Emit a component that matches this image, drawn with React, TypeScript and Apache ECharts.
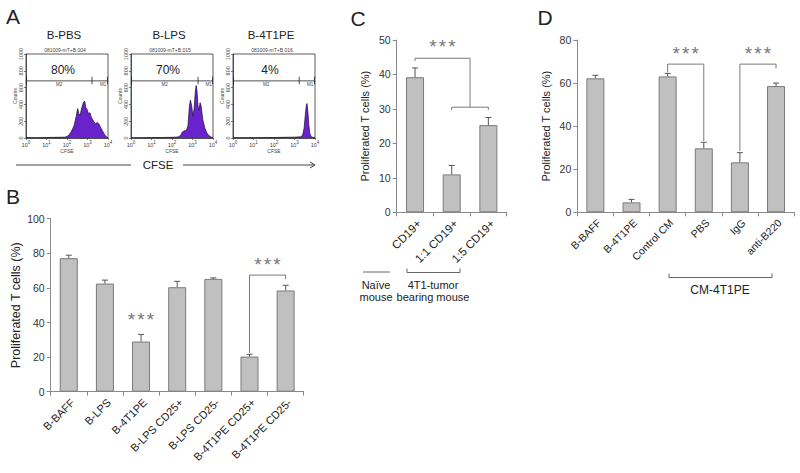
import React, { useEffect, useRef } from "react";
import * as echarts from "echarts";

// ---------- DATA ----------
const histTitles = ["B-PBS", "B-LPS", "B-4T1PE"];
const histFiles = ["081009-mT+B.004", "081009-mT+B.015", "081009-mT+B.016"];
const histPercents = ["80%", "70%", "4%"];
// [log10(CFSE), counts]
const histPBS = [
  [0, 5], [0.5, 4], [1, 6], [1.5, 8], [1.9, 10], [2.05, 25], [2.2, 70], [2.35, 150], [2.45, 260],
  [2.52, 350], [2.58, 290], [2.64, 270], [2.72, 360], [2.8, 420], [2.86, 440], [2.92, 360],
  [2.98, 340], [3.05, 290], [3.12, 300], [3.18, 250], [3.25, 220], [3.32, 190], [3.4, 170],
  [3.47, 185], [3.55, 170], [3.63, 130], [3.72, 90], [3.82, 45], [3.92, 15], [4, 2],
];
const histLPS = [
  [0, 3], [0.5, 4], [1, 5], [1.5, 6], [2, 8], [2.3, 12], [2.42, 30], [2.5, 70], [2.6, 85],
  [2.7, 90], [2.78, 150], [2.85, 380], [2.9, 450], [2.96, 380], [3.02, 260], [3.08, 350],
  [3.14, 560], [3.18, 625], [3.22, 560], [3.27, 380], [3.32, 330], [3.37, 420], [3.42, 380],
  [3.5, 220], [3.6, 120], [3.7, 60], [3.8, 30], [3.9, 12], [4, 3],
];
const hist4T1PE = [
  [0, 3], [0.5, 3], [1, 4], [1.5, 5], [2, 6], [2.5, 8], [3, 10], [3.3, 14], [3.4, 35],
  [3.47, 120], [3.53, 280], [3.58, 390], [3.61, 410], [3.65, 320], [3.7, 150], [3.75, 50],
  [3.82, 15], [3.9, 6], [4, 2],
];
const histData = [histPBS, histLPS, hist4T1PE];
const gateLevel = 680;
const gateBoundaries = [3.22, 3.27, 3.23];
const histXTicks = [0, 1, 2, 3, 4];

const bCategories = ["B-BAFF", "B-LPS", "B-4T1PE", "B-LPS CD25+", "B-LPS CD25-", "B-4T1PE CD25+", "B-4T1PE CD25-"];
const bValues = [77.2, 62.5, 29.0, 60.4, 65.2, 20.3, 58.5];
const bErrors = [1.7, 2.0, 4.1, 3.4, 0.6, 1.3, 3.0];
const bBrackets = [[[5, 22.5], [5, 67.4], [6, 67.4], [6, 65]]];
const bStars = [[2, 43.4], [5.5, 75]];

const cCategories = ["CD19+", "1:1 CD19+", "1:5 CD19+"];
const cValues = [39.2, 11.0, 25.3];
const cErrors = [2.7, 2.6, 2.2];
const cBrackets = [
  [[0, 43.9], [0, 44.7], [1.5, 44.7], [1.5, 30.5]],
  [[1, 29.7], [1, 30.5], [2, 30.5], [2, 29.7]],
];
const cStars = [[0.75, 49.1]];

const dCategories = ["B-BAFF", "B-4T1PE", "Control CM", "PBS", "IgG", "anti-B220"];
const dValues = [62.2, 4.6, 63.1, 29.7, 23.2, 58.6];
const dErrors = [1.4, 1.4, 1.4, 2.8, 4.5, 1.4];
const dBrackets = [
  [[2, 65], [2, 68.8], [3, 68.8], [3, 33.1]],
  [[4, 28.5], [4, 68.8], [5, 68.8], [5, 66.8]],
];
const dStars = [[2.5, 75.3], [4.5, 75.3]];

const yTitle = "Proliferated T cells (%)";

// ---------- STYLE / LAYOUT ----------
const FONT = "Liberation Sans, Arial, sans-serif";
const BAR_FILL = "#c0c0c0";
const BAR_BORDER = "#7a7a7a";
const AXIS = "#8a8a8a";
const TEXT = "#222";
const PURPLE = "#6a22cc";
const HIST_LEFTS = [26, 131, 233];
const HIST_TOP = 54;
const HIST_W = 82;
const HIST_H = 84;

function histAxes(i: number) {
  return {
    x: {
      type: "value", gridIndex: i, min: 0, max: 4, interval: 1,
      axisLine: { show: true, lineStyle: { color: "#333", width: 0.8 } },
      axisTick: { show: true, length: 2, lineStyle: { color: "#333", width: 0.6 } },
      splitLine: { show: false },
      axisLabel: {
        margin: 2,
        formatter: (v: number) => (histXTicks.includes(v) ? `{a|10}{b|${v}}` : ""),
        rich: {
          a: { fontSize: 5.5, color: "#444", fontFamily: FONT },
          b: { fontSize: 4.5, color: "#444", fontFamily: FONT, padding: [0, 0, 4, 0] },
        },
      },
      name: "CFSE", nameLocation: "middle", nameGap: 10,
      nameTextStyle: { fontSize: 5, color: "#444", fontFamily: FONT },
    },
    y: {
      type: "value", gridIndex: i, min: 0, max: 1000, interval: 200,
      axisLine: { show: true, lineStyle: { color: "#333", width: 0.8 } },
      axisTick: { show: true, length: 2, lineStyle: { color: "#333", width: 0.6 } },
      splitLine: { show: false },
      axisLabel: { rotate: 90, fontSize: 5.5, color: "#444", margin: 2, fontFamily: FONT, formatter: (v: number) => String(v) },
      name: "Counts", nameLocation: "middle", nameGap: 9,
      nameTextStyle: { fontSize: 5, color: "#444", fontFamily: FONT },
    },
  };
}

function barAxes(i: number, cats: string[], max: number, interval: number, labelSize: number, nameSize: number, nameGap: number) {
  return {
    x: {
      type: "category", gridIndex: i, data: cats,
      axisLine: { show: true, lineStyle: { color: AXIS, width: 1 } },
      axisTick: { show: true, alignWithLabel: false, length: 4, lineStyle: { color: AXIS } },
      axisLabel: {
        rotate: 45, fontSize: labelSize, color: TEXT, margin: 5, fontFamily: FONT, interval: 0,
        align: "right", verticalAlign: "top",
      },
      splitLine: { show: false },
    },
    y: {
      type: "value", gridIndex: i, min: 0, max, interval,
      axisLine: { show: true, lineStyle: { color: AXIS, width: 1 } },
      axisTick: { show: true, length: 4, lineStyle: { color: AXIS } },
      axisLabel: { fontSize: 10.5, color: "#333", margin: 6, fontFamily: FONT },
      splitLine: { show: false },
      name: yTitle, nameLocation: "middle", nameGap,
      nameTextStyle: { fontSize: nameSize, color: TEXT, fontFamily: FONT },
    },
  };
}

function barSeries(i: number, values: number[]) {
  return {
    type: "bar", xAxisIndex: i, yAxisIndex: i, data: values, barWidth: 18,
    itemStyle: { color: BAR_FILL, borderColor: BAR_BORDER, borderWidth: 1 },
    z: 2,
  };
}

function errorSeries(i: number, values: number[], errors: number[]) {
  return {
    type: "custom", xAxisIndex: i, yAxisIndex: i, z: 5, silent: true,
    data: values.map((v, k) => [k, v, v + errors[k]]),
    encode: { x: 0, y: [1, 2] },
    renderItem: (_p: any, api: any) => {
      const lo = api.coord([api.value(0), api.value(1)]);
      const hi = api.coord([api.value(0), api.value(2)]);
      return {
        type: "group",
        children: [
          { type: "line", shape: { x1: lo[0], y1: lo[1], x2: hi[0], y2: hi[1] }, style: { stroke: "#555", lineWidth: 1 } },
          { type: "line", shape: { x1: hi[0] - 3, y1: hi[1], x2: hi[0] + 3, y2: hi[1] }, style: { stroke: "#555", lineWidth: 1 } },
        ],
      };
    },
  };
}

function bracketSeries(i: number, lines: number[][][], stars: number[][]) {
  return {
    type: "custom", xAxisIndex: i, yAxisIndex: i, z: 6, silent: true, clip: false,
    data: [[0, 0]],
    renderItem: (_p: any, api: any) => {
      const at = (x: number, y: number) => {
        const i0 = Math.floor(x);
        const t = x - i0;
        const p0 = api.coord([i0, y]);
        if (t === 0) return p0;
        const p1 = api.coord([i0 + 1, y]);
        return [p0[0] + t * (p1[0] - p0[0]), p0[1]];
      };
      const children: any[] = [];
      lines.forEach((pts) =>
        children.push({
          type: "polyline",
          shape: { points: pts.map((p) => at(p[0], p[1])) },
          style: { stroke: "#7a7a7a", fill: "none", lineWidth: 1 },
        })
      );
      stars.forEach((s) => {
        const p = at(s[0], s[1]);
        for (let k = -1; k <= 1; k++) {
          children.push({
            type: "text", x: p[0] + k * 9.5, y: p[1] + 3,
            style: { text: "*", fontSize: 19, fill: "#777", align: "center", verticalAlign: "middle", fontFamily: FONT },
          });
        }
      });
      return { type: "group", children };
    },
  };
}

function histSeries(i: number) {
  return [
    {
      type: "line", xAxisIndex: i, yAxisIndex: i, data: histData[i], symbol: "none",
      lineStyle: { color: "#1a0a30", width: 0.7 },
      areaStyle: { color: PURPLE, opacity: 1 },
      z: 2,
    },
    {
      type: "custom", xAxisIndex: i, yAxisIndex: i, z: 4, silent: true,
      data: [[gateBoundaries[i], gateLevel]],
      renderItem: (_p: any, api: any) => {
        const b = api.value(0);
        const g = api.value(1);
        const pL = api.coord([0, g]);
        const pB = api.coord([b, g]);
        const pR = api.coord([4, g]);
        const top = api.coord([0, g + 50])[1];
        const bot = api.coord([0, g - 40])[1];
        const st = { stroke: "#222", lineWidth: 0.8 };
        const lab = (t: string, x: number) => ({
          type: "text", x, y: pL[1] + 1.5,
          style: { text: t, fontSize: 4.5, fill: "#444", align: "center", verticalAlign: "top", fontFamily: FONT },
        });
        return {
          type: "group",
          children: [
            { type: "line", shape: { x1: pL[0], y1: pL[1], x2: pR[0], y2: pR[1] }, style: st },
            { type: "line", shape: { x1: pL[0] + 0.5, y1: top, x2: pL[0] + 0.5, y2: bot }, style: st },
            { type: "line", shape: { x1: pB[0], y1: top, x2: pB[0], y2: bot }, style: st },
            { type: "line", shape: { x1: pR[0] - 0.5, y1: top, x2: pR[0] - 0.5, y2: bot }, style: st },
            lab("M2", (pL[0] + pB[0]) / 2),
            lab("M1", (pB[0] + pR[0]) / 2 + 3),
          ],
        };
      },
    },
  ];
}

function txt(text: string, x: number, y: number, fontSize: number, extra: any = {}) {
  return {
    type: "text", x, y, silent: true,
    style: { text, fontSize, fill: TEXT, align: "center", verticalAlign: "middle", fontFamily: FONT, ...extra },
  };
}
function seg(x1: number, y1: number, x2: number, y2: number, color = "#555") {
  return { type: "line", silent: true, shape: { x1, y1, x2, y2 }, style: { stroke: color, lineWidth: 1 } };
}

export default function App() {
  const ref = useRef<HTMLDivElement>(null);
  useEffect(() => {
    const chart = echarts.init(ref.current!, null, { renderer: "svg" });
    const h = [0, 1, 2].map(histAxes);
    const b = barAxes(3, bCategories, 100, 20, 11, 12.5, 28);
    const c = barAxes(4, cCategories, 50, 10, 11.5, 11, 26);
    const d = barAxes(5, dCategories, 80, 20, 10.5, 11, 26);

    const graphic: any[] = [
      txt("A", 13, 16, 21),
      txt("B", 13, 196, 21),
      txt("C", 358, 18, 21),
      txt("D", 545, 17, 21),
      txt("CFSE", 158, 165, 11.5),
      seg(16, 165, 131, 165, "#444"),
      seg(183, 165, 315, 165, "#444"),
      { type: "polyline", silent: true, shape: { points: [[310, 162], [315, 165], [310, 168]] }, style: { stroke: "#444", fill: "none", lineWidth: 1 } },
      // panel C bottom annotation
      seg(363, 272, 390, 272, "#666"),
      seg(407, 268.5, 407, 272.5, "#666"),
      seg(407, 272.5, 460, 272.5, "#666"),
      seg(460, 268.5, 460, 272.5, "#666"),
      txt("Naïve", 376, 285, 11),
      txt("mouse", 376, 297, 11),
      txt("4T1-tumor", 433, 285, 11),
      txt("bearing mouse", 433, 297, 11),
      // panel D bottom annotation
      seg(669, 273.5, 669, 277.5, "#666"),
      seg(669, 277.5, 772, 277.5, "#666"),
      seg(772, 273.5, 772, 277.5, "#666"),
      txt("CM-4T1PE", 720, 290, 12),
    ];
    HIST_LEFTS.forEach((l, i) => {
      const cx = l + HIST_W / 2;
      graphic.push(txt(histTitles[i], cx - 3, 35, 11.5));
      graphic.push(txt(histFiles[i], cx - 2, 50, 5, { fill: "#444" }));
      graphic.push(txt(histPercents[i], cx - 4, 70, 12));
    });

    const option: any = {
      animation: false,
      backgroundColor: "#fff",
      textStyle: { fontFamily: FONT },
      grid: [
        ...HIST_LEFTS.map((l) => ({ left: l, top: HIST_TOP, width: HIST_W, height: HIST_H, show: true, borderColor: "#333", borderWidth: 0.8, containLabel: false })),
        { left: 50.7, top: 218.7, width: 253, height: 173, containLabel: false },
        { left: 396.7, top: 40, width: 110, height: 172.3, containLabel: false },
        { left: 577.3, top: 40, width: 216.8, height: 172.3, containLabel: false },
      ],
      xAxis: [h[0].x, h[1].x, h[2].x, b.x, c.x, d.x],
      yAxis: [h[0].y, h[1].y, h[2].y, b.y, c.y, d.y],
      series: [
        ...histSeries(0), ...histSeries(1), ...histSeries(2),
        barSeries(3, bValues), errorSeries(3, bValues, bErrors), bracketSeries(3, bBrackets, bStars),
        barSeries(4, cValues), errorSeries(4, cValues, cErrors), bracketSeries(4, cBrackets, cStars),
        barSeries(5, dValues), errorSeries(5, dValues, dErrors), bracketSeries(5, dBrackets, dStars),
      ],
      graphic,
    };
    chart.setOption(option);
    return () => chart.dispose();
  }, []);
  return (
    <div
      ref={ref}
      style={{ position: "fixed", left: 0, top: 0, width: 800, height: 473, background: "#fff" }}
    />
  );
}
